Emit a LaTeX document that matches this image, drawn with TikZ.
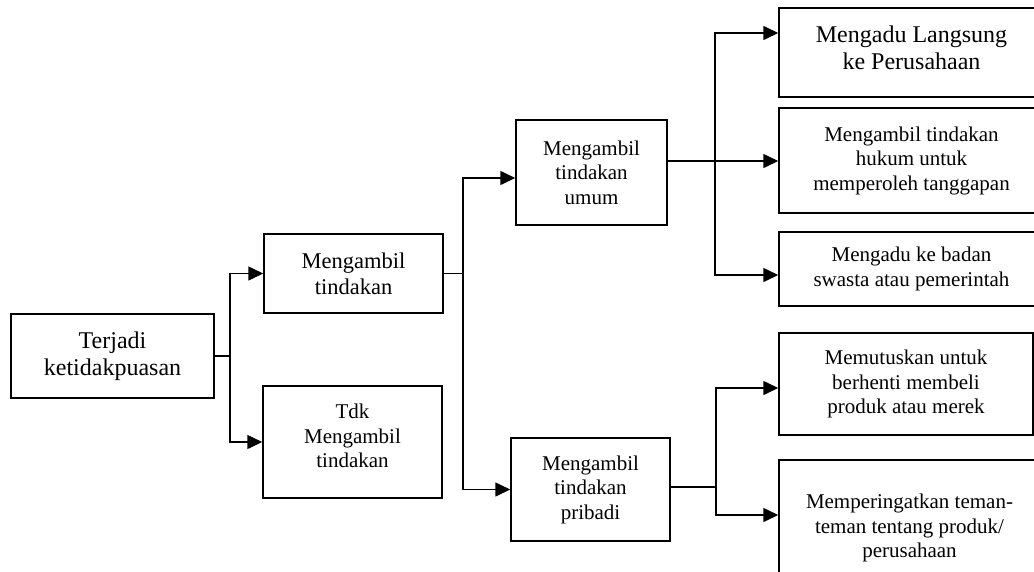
\documentclass[tikz,border=0pt]{standalone}
\usepackage{fontspec}
\setmainfont{Liberation Serif}
\usetikzlibrary{arrows.meta}
\newcommand\fbig{\fontsize{24}{27.5}\selectfont}
\newcommand\fmid{\fontsize{22.5}{26}\selectfont}
\newcommand\fsmall{\fontsize{21}{24.5}\selectfont}

\begin{document}
\begin{tikzpicture}[x=1pt,y=-1pt,
	box/.style={draw, line width=1.5pt, align=center, inner sep=0pt},
	link/.style={line width=1.6pt},
	arr/.style={link, -{Triangle[length=15pt,width=14pt]}}]
	\useasboundingbox (0,0) rectangle (1034,571);
	
	\node [box, minimum width=203pt, minimum height=84pt, font=\fbig] (terjadi) at (112.5,356) {Terjadi\\ketidakpuasan};
	\node [box, minimum width=179pt, minimum height=79pt, font=\fmid] (ambil) at (353.5,273.5) {Mengambil\\tindakan};
	\node [box, minimum width=179pt, minimum height=112pt, font=\fsmall] (tdk) at (352.5,442) {Tdk\\Mengambil\\tindakan\\[-12.5pt]};
	\node [box, minimum width=151pt, minimum height=105pt, font=\fsmall] (umum) at (591.5,172.5) {Mengambil\\tindakan\\umum};
	\node [box, minimum width=159pt, minimum height=103pt, font=\fsmall] (pribadi) at (590.5,489.5) {Mengambil\\tindakan\\pribadi};
	\node [box, minimum width=265pt, minimum height=89pt, font=\fbig] (langsung) at (911.5,52.5) {Mengadu Langsung\\ke Perusahaan\\[-17.5pt]};
	\node [box, minimum width=265pt, minimum height=105pt, font=\fsmall] (hukum) at (911.5,160.5) {Mengambil tindakan\\hukum untuk\\memperoleh tanggapan};
	\node [box, minimum width=265pt, minimum height=74pt, font=\fsmall] (badan) at (911.5,269) {Mengadu ke badan\\swasta atau pemerintah};
	\node [box, minimum width=254pt, minimum height=102pt, font=\fsmall] (putus) at (906,384) {Memutuskan untuk\\berhenti membeli\\produk atau merek};
	\node [box, minimum width=261pt, minimum height=136pt, font=\fsmall] (ingat) at (909.5,528) {Memperingatkan teman-\\teman tentang produk/\\perusahaan};
	
	\coordinate (j1) at (230,356);
	\coordinate (j2) at (463,273.5);
	\coordinate (j3) at (715,161);
	\coordinate (j4) at (716,487);
	
	\draw [link] (terjadi) -- (j1);
	\draw [arr] (j1) |- (ambil);
	\draw [arr] (j1) |- (tdk);
	\draw [link] (ambil) -- (j2);
	\draw [arr] (j2) |- ([yshift=-5.5pt]umum.west);
	\draw [arr] (j2) |- (pribadi);
	\draw [link] (umum.east |- j3) -- (j3);
	\draw [arr] (j3) |- ([yshift=19.5pt]langsung.west);
	\draw [arr] (j3) -- (hukum.west |- j3);
	\draw [arr] (j3) |- ([yshift=-6pt]badan.west);
	\draw [link] (pribadi.east |- j4) -- (j4);
	\draw [arr] (j4) |- ([yshift=-4pt]putus.west);
	\draw [arr] (j4) |- ([yshift=13pt]ingat.west);
	
\end{tikzpicture}
\end{document}
